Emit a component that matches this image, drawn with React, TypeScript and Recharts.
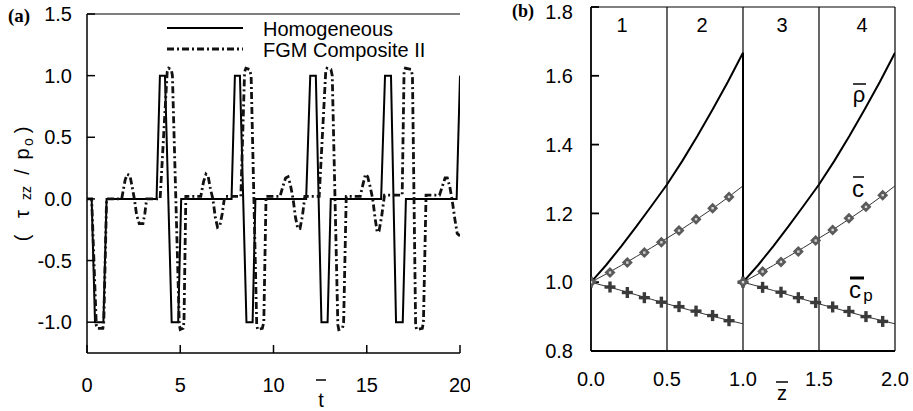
import React from "react";
import { ComposedChart, Line, XAxis, YAxis, ReferenceLine } from "recharts";

const FONT = "'Liberation Sans', Arial, sans-serif";

// panel (a): stress history at the section
const homT = [0, 0.25, 0.43, 0.88, 1.05, 3.73, 3.91, 4.18, 4.54, 4.89, 5.05, 7.75, 7.93, 8.2, 8.55, 8.88, 9.03, 11.75, 11.97, 12.27, 12.57, 12.9, 13.07, 15.77, 15.98, 16.3, 16.57, 16.93, 17.1, 19.82, 20];
const homV = [0, 0, -1, -1, 0, 0, 1, 1, -1, -1, 0, 0, 1, 1, -1, -1, 0, 0, 1, 1, -1, -1, 0, 0, 1, 1, -1, -1, 0, 0, 1];

const fgmT = [
  0, 0.25, 0.5, 0.55, 0.85, 0.9, 1.05, 1.86,
  2.04, 2.15, 2.3, 2.42, 2.54, 2.66, 2.8, 3.0, 3.1, 3.2,
  3.92, 4.3, 4.38, 4.52, 4.58, 4.95, 5.0, 5.15, 5.2, 5.3,
  6.1, 6.25, 6.38, 6.5, 6.62, 6.75, 6.88, 7.0, 7.12, 7.25, 7.38,
  8.25, 8.45, 8.52, 8.72, 8.8, 9.1, 9.15, 9.4, 9.48, 9.6,
  10.35, 10.5, 10.65, 10.78, 10.9, 11.05, 11.18, 11.3, 11.42, 11.55, 11.68,
  12.45, 12.8, 12.87, 13.08, 13.15, 13.45, 13.5, 13.7, 13.76, 13.9,
  14.65, 14.8, 14.93, 15.05, 15.18, 15.32, 15.45, 15.56, 15.66, 15.8, 15.95,
  16.9, 17.0, 17.07, 17.38, 17.45, 17.62, 17.67, 17.98, 18.04, 18.18,
  18.9, 19.05, 19.2, 19.32, 19.45, 19.57, 19.72, 19.85, 20,
];
const fgmV = [
  0, 0, -1.03, -1.05, -1.05, -1.0, 0, 0,
  0.15, 0.2, 0.19, 0.1, 0, -0.13, -0.2, -0.2, -0.12, 0,
  0, 1.03, 1.06, 1.05, 1.0, -1.02, -1.06, -1.05, -1.0, 0.02,
  0.02, 0.14, 0.2, 0.18, 0.08, 0, -0.15, -0.23, -0.22, -0.12, 0.02,
  0.02, 1.03, 1.06, 1.05, 1.0, -1.02, -1.06, -1.05, -1.0, 0.02,
  0.02, 0.1, 0.17, 0.18, 0.12, 0, -0.15, -0.24, -0.24, -0.14, 0.02,
  0.02, 1.03, 1.06, 1.05, 1.0, -1.02, -1.06, -1.05, -1.0, 0.02,
  0.02, 0.12, 0.2, 0.18, 0.1, 0, -0.16, -0.27, -0.26, -0.14, 0.03,
  0.03, 1.03, 1.06, 1.05, 1.0, -1.02, -1.06, -1.05, -1.0, 0.03,
  0.03, 0.1, 0.17, 0.17, 0.1, 0, -0.16, -0.28, -0.3,
];

const tTicks = [0, 5, 10, 15, 20];
const sTicks = [-1, -0.5, 0, 0.5, 1, 1.5];

// panel (b): material property profiles
const zSeg1 = [0, 0.1, 0.2, 0.3, 0.4, 0.5, 0.6, 0.7, 0.8, 0.9, 1.0];
const zSeg2 = [1.0, 1.1, 1.2, 1.3, 1.4, 1.5, 1.6, 1.7, 1.8, 1.9, 2.0];
const rhoVals = [1.0, 1.05, 1.105, 1.163, 1.223, 1.284, 1.352, 1.425, 1.502, 1.582, 1.667];
const cVals = [1.0, 1.024, 1.049, 1.075, 1.101, 1.128, 1.155, 1.184, 1.214, 1.246, 1.28];
const cpVals = [1.0, 0.988, 0.976, 0.963, 0.95, 0.937, 0.925, 0.913, 0.901, 0.89, 0.879];

const markZ1 = [0, 0.125, 0.239, 0.351, 0.463, 0.579, 0.691, 0.8, 0.908];
const markZ2 = [1.0, 1.129, 1.25, 1.364, 1.478, 1.59, 1.697, 1.809, 1.919];
const cMark1 = [1.0, 1.028, 1.057, 1.086, 1.116, 1.15, 1.183, 1.215, 1.248];
const cMark2 = [1.0, 1.031, 1.059, 1.089, 1.121, 1.152, 1.186, 1.219, 1.253];
const cpMark1 = [1.0, 0.986, 0.97, 0.955, 0.942, 0.929, 0.916, 0.903, 0.888];
const cpMark2 = [1.0, 0.985, 0.971, 0.955, 0.941, 0.928, 0.915, 0.9, 0.886];

const zTicks = [0, 0.5, 1, 1.5, 2];
const pTicks = [0.8, 1.0, 1.2, 1.4, 1.6, 1.8];
const sections = ["1", "2", "3", "4"];

const pairs = (xs: number[], ys: number[]) => xs.map((x, i) => ({ x, y: ys[i] }));

const homData = pairs(homT, homV);
const fgmData = pairs(fgmT, fgmV);
const rhoData = [...pairs(zSeg1, rhoVals), ...pairs(zSeg2, rhoVals)];
const cData1 = pairs(zSeg1, cVals);
const cData2 = pairs(zSeg2, cVals);
const cpData1 = pairs(zSeg1, cpVals);
const cpData2 = pairs(zSeg2, cpVals);
const cMarks = [...pairs(markZ1, cMark1), ...pairs(markZ2, cMark2)];
const cpMarks = [...pairs(markZ1, cpMark1), ...pairs(markZ2, cpMark2)];

const tickStyle = { fill: "#000", fontSize: 20, fontFamily: FONT };

const Diamond = (p: any) => {
  const { cx, cy, index } = p;
  if (cx == null || cy == null) return <g key={index} />;
  const r = 5.5;
  return (
    <g key={`d${index}`}>
      <polygon points={`${cx},${cy - r} ${cx + r},${cy} ${cx},${cy + r} ${cx - r},${cy}`} fill="#5a5a5a" />
      <rect x={cx - 1.2} y={cy - 1.2} width={2.4} height={2.4} fill="#d8d8d8" />
    </g>
  );
};

const Plus = (p: any) => {
  const { cx, cy, index } = p;
  if (cx == null || cy == null) return <g key={index} />;
  const r = 5.5;
  const w = 3.4;
  return (
    <g key={`p${index}`} fill="#3a3a3a">
      <rect x={cx - r} y={cy - w / 2} width={2 * r} height={w} />
      <rect x={cx - w / 2} y={cy - r} width={w} height={2 * r} />
    </g>
  );
};

export default function App() {
  return (
    <div style={{ position: "absolute", left: 0, top: 0, width: 913, height: 411, background: "#fff" }}>
      <div style={{ position: "absolute", left: 0, top: 0 }}>
        <ComposedChart width={470} height={411} margin={{ top: 14, right: 10, bottom: 18, left: 27 }}>
          <XAxis
            dataKey="x"
            type="number"
            domain={[0, 20]}
            ticks={tTicks}
            height={40}
            tick={tickStyle}
            tickSize={-8}
            tickMargin={33}
            stroke="#000"
            strokeWidth={1.5}
            allowDataOverflow
          />
          <YAxis
            type="number"
            domain={[-1.25, 1.5]}
            ticks={sTicks}
            width={60}
            tick={tickStyle}
            tickSize={-8}
            tickMargin={23}
            tickFormatter={(v: number) => v.toFixed(1)}
            stroke="#000"
            strokeWidth={1.5}
            allowDataOverflow
          />
          <ReferenceLine y={1.5} stroke="#000" strokeWidth={1.2} />
          <Line data={homData} dataKey="y" type="linear" stroke="#000" strokeWidth={2} dot={false} isAnimationActive={false} />
          <Line
            data={fgmData}
            dataKey="y"
            type="linear"
            stroke="#111"
            strokeWidth={2.8}
            strokeDasharray="7 3 2 3"
            dot={false}
            isAnimationActive={false}
          />
        </ComposedChart>
      </div>
      <div style={{ position: "absolute", left: 460, top: 0 }}>
        <ComposedChart width={453} height={411} margin={{ top: 7, right: 18, bottom: 20, left: 71 }}>
          <XAxis
            dataKey="x"
            type="number"
            domain={[0, 2]}
            ticks={zTicks}
            height={40}
            tick={tickStyle}
            tickLine={false}
            tickSize={8}
            tickMargin={13}
            tickFormatter={(v: number) => v.toFixed(1)}
            stroke="#000"
            strokeWidth={1.8}
            allowDataOverflow
          />
          <YAxis
            type="number"
            domain={[0.8, 1.8]}
            ticks={pTicks}
            width={60}
            tick={tickStyle}
            tickSize={-8}
            tickMargin={26}
            tickFormatter={(v: number) => v.toFixed(1)}
            stroke="#000"
            strokeWidth={1.8}
            allowDataOverflow
          />
          <ReferenceLine y={1.8} stroke="#000" strokeWidth={1.2} />
          <ReferenceLine x={2} stroke="#000" strokeWidth={1.2} />
          <ReferenceLine x={0.5} stroke="#000" strokeWidth={1.2} />
          <ReferenceLine x={1} stroke="#000" strokeWidth={1.2} />
          <ReferenceLine x={1.5} stroke="#000" strokeWidth={1.2} />
          <Line data={cData1} dataKey="y" type="linear" stroke="#333" strokeWidth={1} dot={false} isAnimationActive={false} />
          <Line data={cData2} dataKey="y" type="linear" stroke="#333" strokeWidth={1} dot={false} isAnimationActive={false} />
          <Line data={cpData1} dataKey="y" type="linear" stroke="#333" strokeWidth={1} dot={false} isAnimationActive={false} />
          <Line data={cpData2} dataKey="y" type="linear" stroke="#333" strokeWidth={1} dot={false} isAnimationActive={false} />
          <Line data={cpMarks} dataKey="y" stroke="none" dot={Plus} activeDot={false} isAnimationActive={false} />
          <Line data={cMarks} dataKey="y" stroke="none" dot={Diamond} activeDot={false} isAnimationActive={false} />
          <Line data={rhoData} dataKey="y" type="linear" stroke="#000" strokeWidth={2} dot={false} isAnimationActive={false} />
        </ComposedChart>
      </div>
      <svg width={913} height={411} style={{ position: "absolute", left: 0, top: 0, pointerEvents: "none" }} fontFamily={FONT}>
        <text x={8} y={22} fontFamily="'Liberation Serif', 'Times New Roman', serif" fontWeight="bold" fontSize={19}>(a)</text>
        <text x={512} y={17} fontFamily="'Liberation Serif', 'Times New Roman', serif" fontWeight="bold" fontSize={18}>(b)</text>

        <line x1={167} y1={28} x2={243} y2={28} stroke="#000" strokeWidth={2} />
        <line x1={167} y1={49} x2={243} y2={49} stroke="#111" strokeWidth={2.8} strokeDasharray="7 3 2 3" />
        <text x={263} y={36} fontSize={20}>Homogeneous</text>
        <text x={263} y={57} fontSize={20}>FGM Composite II</text>

        <g transform="translate(29,0) rotate(-90)" fontSize={20}>
          <text x={-238} y={0} textAnchor="middle">(</text>
          <text x={-214} y={0} textAnchor="middle">τ</text>
          <text x={-193} y={2} textAnchor="middle" fontSize={14}>zz</text>
          <text x={-172} y={0} textAnchor="middle">/</text>
          <text x={-154} y={0} textAnchor="middle">p</text>
          <text x={-142} y={4} textAnchor="middle" fontSize={14}>o</text>
          <text x={-130} y={0} textAnchor="middle">)</text>
        </g>

        <text x={321} y={407} fontSize={20} textAnchor="middle">t</text>
        <line x1={316} y1={380} x2={326} y2={380} stroke="#000" strokeWidth={1.5} />

        <text x={782} y={400} fontSize={20} textAnchor="middle">z</text>
        <line x1={776} y1={382} x2={788} y2={382} stroke="#000" strokeWidth={1.5} />

        {sections.map((s, i) => (
          <text key={s} x={622 + i * 80} y={32} fontSize={20} textAnchor="middle">{s}</text>
        ))}

        <text x={859} y={102} fontSize={22} textAnchor="middle">ρ</text>
        <line x1={853} y1={84} x2={866} y2={84} stroke="#000" strokeWidth={1.5} />

        <text x={858} y={197} fontSize={24} textAnchor="middle">c</text>
        <line x1={853} y1={177} x2={864} y2={177} stroke="#000" strokeWidth={1.5} />

        <line x1={850} y1={278} x2={864} y2={278} stroke="#000" strokeWidth={3} />
        <text x={855} y={298} fontSize={24} textAnchor="middle">c</text>
        <text x={868} y={301} fontSize={17} textAnchor="middle">p</text>
      </svg>
    </div>
  );
}
